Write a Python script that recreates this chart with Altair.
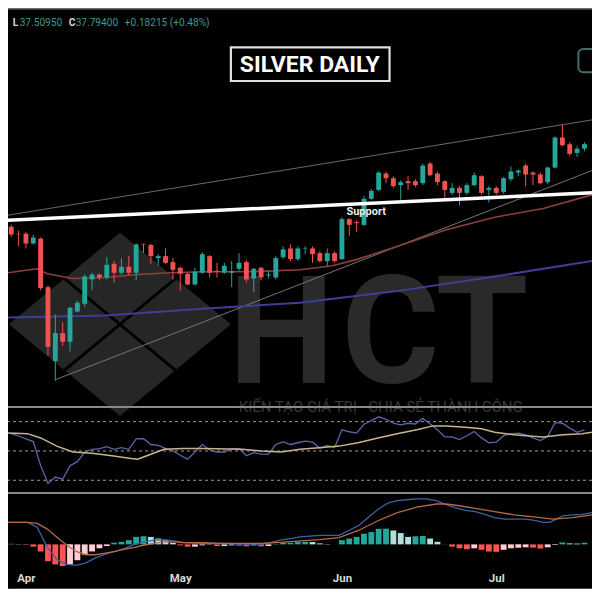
import altair as alt
import pandas as pd

# ---------------- data ----------------
opens = [34.46, 34.18, 34.18, 33.79, 33.99, 32.03, 29.05, 30.18, 29.83, 31.05,
         31.36, 32.34, 32.54, 32.42, 32.97, 32.61, 32.85, 32.61, 33.75, 33.73,
         33.20, 33.28, 33.04, 32.81, 32.57, 32.14, 32.61, 33.28, 32.69, 32.61,
         32.61, 32.77, 33.04, 32.38, 32.81, 32.50, 32.42, 33.24, 33.59, 33.16,
         33.59, 33.59, 33.40, 33.08, 33.40, 33.16, 34.77, 34.65, 34.54, 35.59,
         35.95, 36.61, 36.42, 36.14, 36.30, 36.30, 36.22, 37.01, 36.61, 36.30,
         35.83, 36.03, 35.83, 36.14, 36.50, 35.95, 36.03, 35.87, 36.38, 36.65,
         36.93, 36.65, 36.57, 36.26, 36.85, 38.06, 37.79, 37.44, 37.61]
highs = [34.55, 34.30, 34.26, 34.14, 34.03, 32.10, 30.93, 30.61, 31.24, 31.48,
         32.54, 32.61, 32.57, 33.24, 33.08, 33.20, 33.28, 33.79, 33.79, 33.77,
         33.36, 33.59, 33.20, 32.85, 32.61, 32.81, 33.44, 33.32, 33.01, 33.01,
         33.08, 33.40, 33.12, 32.81, 32.85, 32.69, 33.28, 33.67, 33.75, 33.67,
         33.67, 33.67, 33.48, 33.59, 33.48, 34.85, 34.81, 34.73, 35.71, 35.99,
         36.69, 36.69, 36.50, 36.34, 36.50, 36.38, 37.01, 37.08, 36.69, 36.34,
         36.22, 36.10, 36.22, 36.65, 36.54, 36.10, 36.10, 36.46, 36.89, 36.77,
         37.01, 36.69, 36.65, 36.89, 38.10, 38.57, 37.87, 37.71, 37.87]
lows = [34.06, 33.67, 33.59, 33.75, 31.91, 29.28, 28.26, 29.67, 29.44, 31.01,
        31.24, 31.91, 32.30, 32.34, 32.22, 32.54, 32.50, 32.30, 33.40, 32.97,
        32.89, 32.97, 32.34, 31.87, 32.10, 32.10, 32.57, 32.42, 32.42, 32.57,
        32.03, 32.69, 32.22, 31.83, 32.30, 32.38, 32.34, 33.16, 33.08, 33.08,
        33.36, 33.01, 33.01, 32.89, 33.01, 33.12, 34.10, 34.26, 34.50, 35.55,
        35.91, 36.22, 36.03, 35.55, 35.95, 36.06, 36.14, 36.50, 36.14, 35.55,
        35.75, 35.32, 35.75, 36.10, 35.75, 35.44, 35.75, 35.79, 36.30, 36.50,
        36.10, 36.14, 36.18, 36.18, 36.81, 37.71, 37.32, 37.28, 37.51]
closes = [34.15, 34.16, 33.79, 34.03, 31.99, 29.63, 30.18, 29.83, 31.20, 31.40,
          32.46, 32.54, 32.42, 32.93, 32.61, 32.85, 32.61, 33.75, 33.73, 33.28,
          33.28, 33.01, 32.73, 32.57, 32.14, 32.65, 33.36, 32.61, 32.65, 32.89,
          32.67, 33.01, 32.34, 32.77, 32.42, 32.54, 33.20, 33.55, 33.16, 33.59,
          33.61, 33.36, 33.08, 33.40, 33.08, 34.77, 34.54, 34.61, 35.59, 35.91,
          36.65, 36.42, 36.10, 36.26, 36.22, 36.14, 36.93, 36.54, 36.26, 35.95,
          36.03, 35.83, 36.14, 36.54, 35.83, 36.03, 35.83, 36.42, 36.69, 36.73,
          36.57, 36.57, 36.22, 36.85, 38.06, 37.75, 37.40, 37.61, 37.794]

# moving averages (sparse points: bar index, price)
ma_red_x = [-0.44, 3.5, 4.9, 8.4, 12.8, 17.2, 21.7, 26.0, 32.7, 39.3, 43.7, 47.2, 52.5, 59.2, 65.8, 72.4, 79.03]
ma_red_y = [32.61, 32.77, 32.57, 32.38, 32.42, 32.54, 32.61, 32.65, 32.65, 32.73, 32.89, 33.16, 33.67, 34.34, 34.85, 35.20, 35.75]
ma_blue_x = [-0.44, 12.8, 26.0, 39.3, 52.5, 65.8, 79.03]
ma_blue_y = [30.81, 30.89, 31.16, 31.40, 31.87, 32.46, 33.08]

# drawn lines
support_x = [-0.44, 79.03]
support_y = [34.73, 35.83]
upper_x = [-0.44, 79.03]
upper_y = [34.93, 38.77]
lower_x = [6.0, 79.03]
lower_y = [28.30, 36.73]

# RSI
rsi = [61.8, 60.2, 58.2, 56.4, 40.0, 27.8, 32.2, 30.7, 40.0, 42.7,
       49.3, 51.1, 51.6, 52.9, 51.1, 52.2, 51.1, 58.2, 58.4, 54.4,
       53.8, 51.8, 50.0, 47.1, 44.4, 49.3, 54.4, 50.7, 49.3, 49.3,
       51.6, 51.6, 46.7, 48.9, 47.8, 47.8, 54.4, 56.2, 54.4, 55.6,
       56.7, 56.0, 51.8, 53.8, 52.2, 64.4, 63.1, 62.2, 68.2, 70.7,
       73.3, 71.6, 68.9, 67.8, 68.9, 68.4, 72.2, 68.4, 64.4, 59.6,
       59.6, 57.8, 60.4, 63.3, 58.9, 55.6, 56.0, 60.4, 61.6, 62.2,
       60.9, 58.9, 57.1, 60.0, 69.3, 68.9, 65.6, 62.7, 64.4]
rsi_ma_x = [-0.44, 2.2, 4.0, 6.2, 8.4, 11.0, 13.7, 16.3, 17.2, 19.0, 20.8, 23.4, 26.1, 31.4, 34.0, 36.7,
            39.3, 41.9, 44.6, 47.2, 49.9, 52.5, 55.2, 57.4, 59.2, 61.8, 64.0, 65.8, 68.4, 71.0, 72.4,
            75.1, 77.7, 79.03]
rsi_ma_y = [62.2, 61.8, 58.9, 53.3, 49.3, 48.4, 46.7, 44.9, 44.4, 47.8, 51.1, 51.6, 51.6, 51.1, 50.0, 49.3,
            51.1, 52.2, 53.3, 55.6, 58.9, 61.8, 64.4, 67.1, 67.1, 66.2, 65.1, 62.7, 61.1, 60.0, 59.6,
            61.1, 61.8, 62.7]
rsi_levels = [70, 50, 30]

# MACD
macd_x = [-0.44, 2.21, 3.53, 4.2, 4.86, 6.19, 7.51, 8.83, 10.16, 11.48,
          12.81, 14.13, 15.46, 16.78, 18.1, 19.43, 20.75, 22.08, 23.4, 26.05,
          28.7, 31.35, 34.0, 35.3, 36.65, 37.97, 39.3,
          41.95, 44.6, 45.92, 47.25, 48.57, 49.9, 51.22, 52.54, 53.87, 55.19,
          56.52, 57.84, 59.17, 60.49, 61.81, 63.14, 64.46, 65.79, 67.11, 68.43,
          69.76, 71.08, 72.41, 73.29, 74.17, 75.06, 76.38, 77.7, 79.03]
macd_y = [0.378, 0.378, 0.294, 0.128, -0.039, -0.261, -0.344, -0.361, -0.317, -0.233,
          -0.167, -0.122, -0.067, 0.0, 0.044, 0.072, 0.083, 0.061, 0.028, 0.017,
          0.017, 0.006, 0.006, 0.028, 0.072, 0.1, 0.128,
          0.156, 0.156, 0.239, 0.322, 0.461, 0.6, 0.711, 0.75, 0.767, 0.783,
          0.783, 0.75, 0.683, 0.628, 0.583, 0.561, 0.517, 0.461, 0.433, 0.433,
          0.433, 0.417, 0.378, 0.378, 0.433, 0.489, 0.506, 0.517, 0.544]
sig_x = [-0.44, 2.21, 3.53, 4.86, 6.19, 7.51, 8.83, 10.16, 11.48,
         12.81, 14.13, 15.46, 16.78, 18.1, 19.43, 20.75, 22.08, 23.4, 26.05,
         28.7, 31.35, 34.0, 36.65, 39.3,
         41.95, 44.6, 47.25, 49.9, 52.54, 55.19, 57.84, 59.17, 60.49,
         63.14, 65.79, 68.43, 71.08, 73.73, 76.38, 79.03]
sig_y = [0.378, 0.378, 0.361, 0.267, 0.128, -0.011, -0.122, -0.178, -0.178,
         -0.15, -0.122, -0.083, -0.05, -0.011, 0.017, 0.044, 0.044, 0.033, 0.028,
         0.017, 0.017, 0.017, 0.033, 0.061,
         0.083, 0.117, 0.239, 0.406, 0.544, 0.639, 0.694, 0.694, 0.672,
         0.617, 0.561, 0.506, 0.472, 0.433, 0.461, 0.506]
hist = [0.01, 0.005, -0.005, -0.039, -0.122, -0.289, -0.344, -0.372, -0.344, -0.272,
        -0.178, -0.122, -0.067, -0.028, 0.028, 0.044, 0.072, 0.128, 0.139, 0.128,
        0.1, 0.072, 0.028, -0.017, -0.039, -0.039, -0.017, -0.006, -0.028, -0.028,
        -0.017, -0.022, -0.033, -0.017, -0.033, -0.028, 0.006, 0.028, 0.028, 0.044,
        0.044, 0.040, 0.017, 0.006, 0.0, 0.072, 0.1, 0.128, 0.183, 0.211,
        0.267, 0.27, 0.239, 0.194, 0.128, 0.139, 0.144, 0.1, 0.044, -0.003,
        -0.039, -0.067, -0.083, -0.067, -0.094, -0.122, -0.128, -0.094, -0.067, -0.056,
        -0.05, -0.056, -0.072, -0.05, -0.011, 0.033, 0.017, 0.014, 0.028]

month_pos = [2, 23, 45, 66]
month_lbl = ["Apr", "May", "Jun", "Jul"]

title_text = "SILVER DAILY"
support_text = "Support"
tagline = "KIẾN TẠO GIÁ TRỊ - CHIA SẺ THÀNH CÔNG"
logo_letters = ["H", "C", "T"]
hdr_low_lbl, hdr_low = "L", "37.50950"
hdr_close_lbl, hdr_close = "C", "37.79400"
hdr_change = "+0.18215 (+0.48%)"

# ---------------- layout / style ----------------
S = 0.9733                    # drawing scale (reference px -> chart px)
W = round(600 * S)
H_MAIN, H_RSI, H_MACD = round(409 * S), round(88 * S), round(100 * S)
X_DOM = [-0.44, 79.03]
P_DOM = [27.24, 43.28]
R_DOM = [22, 80.67]
M_DOM = [-0.767, 0.9]
UP, DOWN = "#26a69a", "#ef5350"
FONT = "Roboto"


def px(v):
    return alt.value(round(v * S, 2))


n = len(closes)
candles = pd.DataFrame({"i": list(range(n)), "open": opens, "high": highs,
                        "low": lows, "close": closes})
candles["dir"] = ["up" if c >= o else "down" for o, c in zip(opens, closes)]

xs = alt.Scale(domain=X_DOM, nice=False, zero=False, padding=0)
ps = alt.Scale(domain=P_DOM, nice=False, zero=False)
rs = alt.Scale(domain=R_DOM, nice=False, zero=False)
ms = alt.Scale(domain=M_DOM, nice=False, zero=False)


def X(f):
    return alt.X(f, type="quantitative", scale=xs, axis=None)


def line_df(xv, yv):
    return pd.DataFrame({"x": xv, "y": yv})


one = pd.DataFrame({"k": [0]})
dircolor = alt.Color("dir:N", scale=alt.Scale(domain=["up", "down"], range=[UP, DOWN]), legend=None)
DIAMOND = "M0,-0.826L1,0L0,0.826L-1,0Z"
LOGO_CX, LOGO_CY, LOGO_W = 115, 325, 228

# ---------------- main price panel ----------------
layers = []
layers.append(alt.Chart(one).mark_point(shape=DIAMOND, size=(LOGO_W * S) ** 2, filled=True, color="#262626",
                                        opacity=1, strokeWidth=0, clip=True)
              .encode(x=px(LOGO_CX), y=px(LOGO_CY)))
for (a, b, c, d) in [(57.5, 277.5, 172.5, 372.5), (172.5, 277.5, 57.5, 372.5)]:
    layers.append(alt.Chart(one).mark_rule(color="#000000", strokeWidth=3, clip=True)
                  .encode(x=px(a), y=px(b), x2=px(c), y2=px(d)))
for letter, cx in zip(logo_letters, [281, 393, 487]):
    layers.append(alt.Chart(one).mark_text(text=letter, font=FONT, fontSize=154 * S, fontWeight="bold",
                                           color="#2a2a2a", align="center", baseline="alphabetic")
                  .encode(x=px(cx), y=px(385)))
layers.append(alt.Chart(one).mark_text(text=tagline, font=FONT, fontSize=15.4 * S, color="#383838",
                                       align="center", baseline="middle")
              .encode(x=px(383), y=px(411)))

for xv, yv, col, sw in [(upper_x, upper_y, "#6a6a6a", 1), (lower_x, lower_y, "#757575", 1),
                        (ma_blue_x, ma_blue_y, "#3e3e96", 2), (ma_red_x, ma_red_y, "#8e3f3f", 1.6)]:
    layers.append(alt.Chart(line_df(xv, yv)).mark_line(color=col, strokeWidth=sw, clip=True)
                  .encode(x=X("x"), y=alt.Y("y:Q", scale=ps, axis=None)))

layers.append(alt.Chart(candles).mark_rule(strokeWidth=1)
              .encode(x=X("i"), y=alt.Y("low:Q", scale=ps, axis=None), y2="high:Q", color=dircolor))
layers.append(alt.Chart(candles).mark_bar(size=5 * S)
              .encode(x=X("i"), y=alt.Y("open:Q", scale=ps, axis=None), y2="close:Q", color=dircolor))

layers.append(alt.Chart(line_df(support_x, support_y)).mark_line(color="#ffffff", strokeWidth=3.5, clip=True)
              .encode(x=X("x"), y=alt.Y("y:Q", scale=ps, axis=None)))
layers.append(alt.Chart(one).mark_text(text=support_text, font=FONT, fontSize=11.3 * S, fontWeight="bold",
                                       color="#e8e8e8", align="center", baseline="middle")
              .encode(x=px(368), y=px(210)))

layers.append(alt.Chart(one).mark_rect(fill="#000000", fillOpacity=0, stroke="#e0e0e0", strokeWidth=2.2)
              .encode(x=px(229), x2=px(392), y=px(40.5), y2=px(75)))
layers.append(alt.Chart(one).mark_text(text=title_text, font=FONT, fontSize=23.6 * S, fontWeight="bold",
                                       color="#ffffff", align="center", baseline="middle")
              .encode(x=px(310), y=px(58.5)))

for txt, xp, col, fw in [(hdr_low_lbl, 5, "#d8d8d8", "bold"), (hdr_low, 12, "#3a9c8c", "normal"),
                         (hdr_close_lbl, 62.5, "#d8d8d8", "bold"), (hdr_close, 69.5, "#3a9c8c", "normal"),
                         (hdr_change, 120, "#3a9c8c", "normal")]:
    layers.append(alt.Chart(one).mark_text(text=txt, font=FONT, fontSize=10.4 * S, fontWeight=fw, color=col,
                                           align="left", baseline="middle")
                  .encode(x=px(xp), y=px(15)))

layers.append(alt.Chart(one).mark_rect(fill="#000000", fillOpacity=0, stroke="#3f6f6a", strokeWidth=2,
                                       cornerRadius=5, clip=True)
              .encode(x=px(586), x2=px(606), y=px(42), y2=px(66)))
layers.append(alt.Chart(one).mark_rule(color="#6f6f6f", strokeWidth=1.5, clip=True)
              .encode(x=alt.value(0), x2=alt.value(W), y=alt.value(0.8)))

main = alt.layer(*layers).properties(width=W, height=H_MAIN)

# ---------------- RSI panel ----------------
rsi_df = pd.DataFrame({"i": list(range(n)), "r": rsi})
rsi_layers = [
    alt.Chart(one).mark_point(shape=DIAMOND, size=(LOGO_W * S) ** 2, filled=True, color="#262626",
                              opacity=1, strokeWidth=0, clip=True)
    .encode(x=px(LOGO_CX), y=alt.value(round(LOGO_CY * S - H_MAIN, 2))),
    alt.Chart(one).mark_rule(color="#8a8a8a", strokeWidth=2, clip=True)
    .encode(x=alt.value(0), x2=alt.value(W), y=alt.value(1)),
    alt.Chart(pd.DataFrame({"v": rsi_levels})).mark_rule(color="#9a9a9a", strokeWidth=1, strokeDash=[3, 3],
                                                         clip=True)
    .encode(y=alt.Y("v:Q", scale=rs, axis=None)),
    alt.Chart(rsi_df).mark_line(color="#5f63a8", strokeWidth=1.3, clip=True)
    .encode(x=X("i"), y=alt.Y("r:Q", scale=rs, axis=None)),
    alt.Chart(line_df(rsi_ma_x, rsi_ma_y)).mark_line(color="#c8b48e", strokeWidth=1.5, clip=True)
    .encode(x=X("x"), y=alt.Y("y:Q", scale=rs, axis=None)),
]
rsi_c = alt.layer(*rsi_layers).properties(width=W, height=H_RSI)

# ---------------- MACD panel ----------------
cats = []
prev = None
for h in hist:
    p = h if prev is None else prev
    if h >= 0:
        cats.append("pu" if h >= p else "pd")
    else:
        cats.append("nd" if h < p else "nu")
    prev = h
hist_df = pd.DataFrame({"i": list(range(n)), "h": hist, "cat": cats})

label_expr = " : ".join(f"datum.value == {p} ? '{l}'" for p, l in zip(month_pos, month_lbl)) + " : ''"
x_axis = alt.Axis(values=month_pos, labelExpr=label_expr, grid=False, ticks=False, tickSize=0,
                  domain=True, domainColor="#8a8a8a", domainWidth=2, labelColor="#d8d8d8",
                  labelFontSize=11.8 * S, labelFontWeight="bold", labelFont=FONT,
                  labelPadding=round(-16.5 * S, 1), labelFlush=False, title=None, minExtent=0)


def XA(f):
    return alt.X(f, type="quantitative", scale=xs, axis=x_axis)


macd_layers = [
    alt.Chart(one).mark_rule(color="#8a8a8a", strokeWidth=2, clip=True)
    .encode(x=alt.value(0), x2=alt.value(W), y=alt.value(1)),
    alt.Chart(hist_df).mark_bar(size=6 * S)
    .encode(x=XA("i"), y=alt.Y("h:Q", scale=ms, axis=None), y2=alt.datum(0),
            color=alt.Color("cat:N", scale=alt.Scale(domain=["pu", "pd", "nd", "nu"],
                                                     range=["#26a69a", "#b2dfdb", "#ff5252", "#ffcdd2"]),
                            legend=None)),
    alt.Chart(line_df(macd_x, macd_y)).mark_line(color="#3f5fa6", strokeWidth=1.3, clip=True)
    .encode(x=XA("x"), y=alt.Y("y:Q", scale=ms, axis=None)),
    alt.Chart(line_df(sig_x, sig_y)).mark_line(color="#b36b45", strokeWidth=1.3, clip=True)
    .encode(x=XA("x"), y=alt.Y("y:Q", scale=ms, axis=None)),
]
macd_c = alt.layer(*macd_layers).properties(width=W, height=H_MACD)

chart = (alt.vconcat(main, rsi_c, macd_c, spacing=0, bounds="flush")
         .resolve_scale(color="independent")
         .properties(padding=0, background="#000000")
         .configure(font=FONT)
         .configure_view(stroke=None))

chart.save("out.html", embed_options={"renderer": "svg", "actions": False})
